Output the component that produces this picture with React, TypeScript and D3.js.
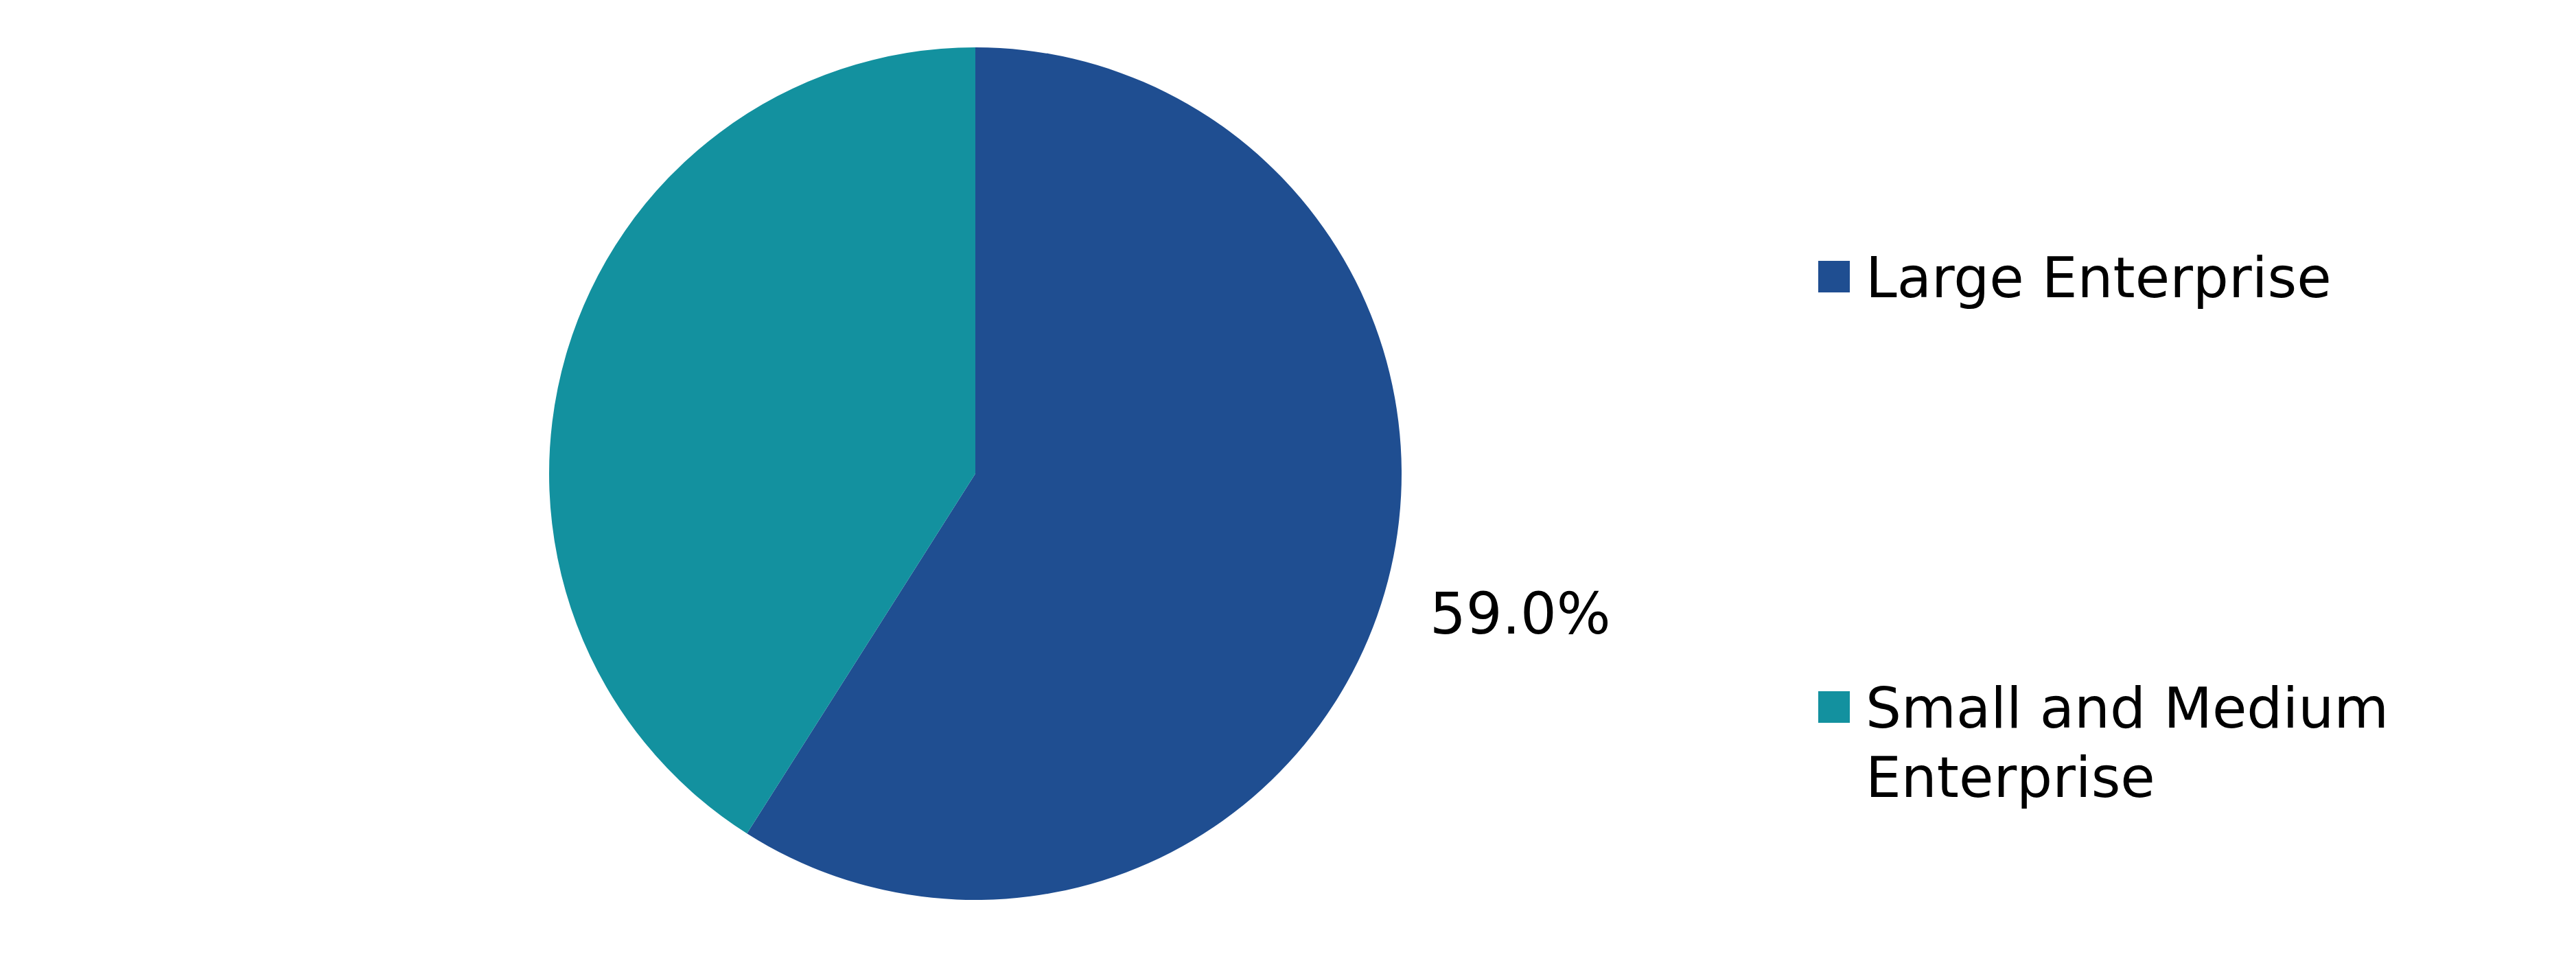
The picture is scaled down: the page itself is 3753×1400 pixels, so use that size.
import React from "react";
import * as d3 from "d3";

const categories = ["Large Enterprise", "Small and Medium Enterprise"];
const values = [59.0, 41.0];
const colors = ["#1F4E91", "#13919F"];
const legendLines = [["Large Enterprise"], ["Small and Medium", "Enterprise"]];

const W = 3753;
const H = 1400;
const cx = 1421;
const cy = 690;
const R = 621;
const FONT = "'DejaVu Sans', Verdana, sans-serif";

export default function App() {
  const pie = d3.pie<number>().sort(null).value((d) => d)(values);
  const arc = d3.arc<d3.PieArcDatum<number>>().innerRadius(0).outerRadius(R);
  const total = d3.sum(values);
  const fmt = d3.format(".1f");
  return (
    <svg width={W} height={H} style={{ position: "absolute", left: 0, top: 0 }}>
      <rect width={W} height={H} fill="#fff" />
      <g transform={`translate(${cx},${cy})`}>
        {pie.map((p, i) => (
          <path key={i} d={arc(p) || ""} fill={colors[i]} />
        ))}
      </g>
      <text x={2083} y={923} fontFamily={FONT} fontSize={83} fill="#000">
        {fmt((values[0] / total) * 100)}%
      </text>
      {categories.map((c, i) => {
        const y0 = i === 0 ? 380 : 1007;
        return (
          <g key={c}>
            <rect x={2649} y={y0} width={46} height={46} fill={colors[i]} />
            {legendLines[i].map((ln, j) => (
              <text key={j} x={2718} y={y0 + 53 + j * 101} fontFamily={FONT} fontSize={82} fill="#000">
                {ln}
              </text>
            ))}
          </g>
        );
      })}
    </svg>
  );
}
